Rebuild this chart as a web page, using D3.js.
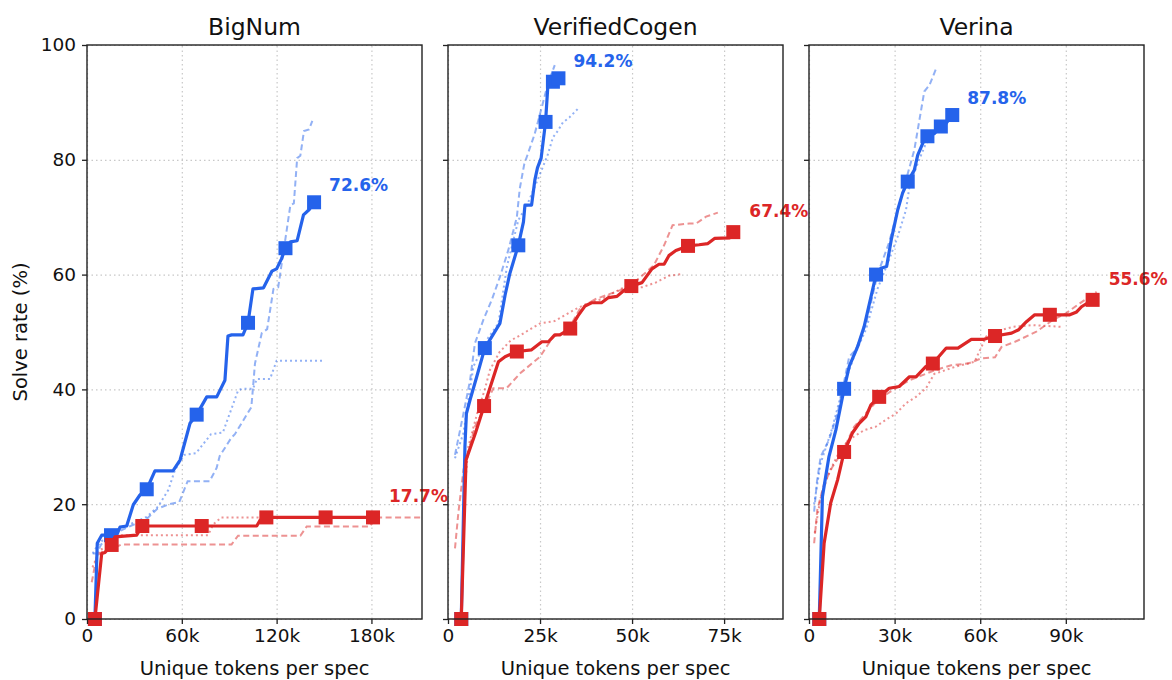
<!DOCTYPE html>
<html><head><meta charset="utf-8">
<script src="https://cdn.jsdelivr.net/npm/d3@7"></script>
<style>body{margin:0;background:#fff}svg{display:block}text{font-family:"DejaVu Sans",sans-serif}</style>
</head><body><svg id="c" width="1172" height="680"></svg>
<script>
// ---------- data (x in thousands of unique tokens, y in % solved) ----------
const panelTitles = ["BigNum", "VerifiedCogen", "Verina"];
const xTicksBig = [0, 60, 120, 180];
const xTicksVC = [0, 25, 50, 75];
const xTicksVer = [0, 30, 60, 90];
const xMaxes = [212, 91, 117.4];
const yTicks = [0, 20, 40, 60, 80, 100];

// BigNum
const bigBlueX = [5, 6.5, 9.3, 15.2, 18.8, 20.9, 25.1, 29.3, 33.5, 37.8, 43, 54.4, 58.9, 65.2, 69.4, 75.8, 82.1, 87.3, 89.2, 91.5, 98.7, 101.9, 105, 111.7, 117, 120, 123, 125.6, 128.7, 133, 137, 140.5, 143.7];
const bigBlueY = [0, 13.2, 14.6, 14.6, 14.6, 16.0, 16.2, 19.9, 21.6, 22.6, 25.8, 25.8, 27.7, 34.1, 35.6, 38.7, 38.7, 41.6, 49.3, 49.5, 49.5, 51.6, 57.5, 57.7, 60.6, 61, 62.7, 64.6, 65.7, 65.9, 70.4, 71.3, 72.6];
const bigBlueMarkX = [5, 15.2, 37.8, 69.4, 101.9, 125.6, 143.7];
const bigBlueMarkY = [0, 14.6, 22.6, 35.6, 51.6, 64.6, 72.6];
const bigBlueDashX = [3.6, 6, 9, 15, 22, 30, 38, 44.5, 52, 58.4, 63.7, 77.6, 82, 84, 91.4, 93.6, 100, 104, 106.3, 110.6, 114, 118, 121, 125.6, 128.7, 130.9, 133, 135, 137.3, 140.5, 142.6];
const bigBlueDashY = [11.4, 11.4, 13, 14.5, 15.5, 16.5, 17.5, 19.2, 20, 20.4, 24, 24, 26.3, 28.4, 31.6, 32.2, 35.1, 36.9, 44.5, 49.8, 50.5, 57.5, 57.8, 66.3, 72.1, 72.4, 80.3, 80.7, 85, 85.3, 86.8];
const bigBlueDotX = [3.6, 6, 9, 15, 22, 30, 37.8, 45, 51.5, 55.7, 61.6, 69, 78.5, 86, 95.6, 97.8, 105, 107.5, 115.8, 120, 150];
const bigBlueDotY = [11.4, 12.5, 13.5, 14.8, 16, 16.8, 17.8, 19.6, 22.5, 26, 28.6, 28.9, 32.2, 32.5, 39.8, 40.1, 40.1, 41.8, 41.8, 45, 45];
const bigRedX = [5, 9.3, 11.4, 15.6, 17.7, 31.4, 35, 72.6, 107.4, 109.5, 113.5, 151, 181];
const bigRedY = [0, 11.4, 11.6, 12.9, 14.3, 14.6, 16.2, 16.2, 16.2, 17.2, 17.7, 17.7, 17.7];
const bigRedMarkX = [5, 15.6, 35, 72.6, 113.5, 151, 181];
const bigRedMarkY = [0, 12.9, 16.2, 16.2, 17.7, 17.7, 17.7];
const bigRedDashX = [3, 6.2, 10.5, 18, 22, 91.5, 95.6, 135, 139, 179, 183, 211];
const bigRedDashY = [6.4, 11, 11.9, 12.5, 13, 13, 14.5, 14.5, 16.1, 16.1, 17.7, 17.7];
const bigRedDotX = [3.5, 8, 12.5, 19, 21, 76.6, 80, 85, 112];
const bigRedDotY = [9, 12, 12.6, 14.3, 14.6, 14.6, 16.5, 17.7, 17.7];

// VerifiedCogen
const vcBlueX = [3.6, 4.6, 5, 6, 7.8, 10, 14.1, 15.5, 16.8, 19.1, 20.5, 20.9, 22.7, 23.6, 24.3, 25.3, 26.5, 27.1, 28.5, 30];
const vcBlueY = [0, 30, 35.8, 38.2, 42.2, 47.2, 51.5, 56.4, 60.2, 65.1, 69.2, 72.1, 72.1, 76.5, 78.6, 80.3, 86.6, 92.6, 93.6, 94.2];
const vcBlueMarkX = [3.6, 10, 19.1, 26.5, 28.5, 30];
const vcBlueMarkY = [0, 47.2, 65.1, 86.6, 93.6, 94.2];
const vcBlueDashX = [1.9, 4.2, 6, 7.3, 9.6, 11.9, 14.1, 16.4, 18.7, 19.5, 20.7, 23.5, 25.7, 27.1, 29];
const vcBlueDashY = [28.6, 35.8, 41.6, 48, 52.1, 55.6, 59.6, 64.3, 70, 75, 79.2, 84.4, 89.7, 93.2, 96.5];
const vcBlueDotX = [1.9, 4.2, 6.9, 10.5, 13.7, 16, 19.1, 21.4, 23.7, 25.3, 27.1, 28.5, 29.8, 31.2, 33, 35.3];
const vcBlueDotY = [28, 32.4, 44, 48.6, 51.5, 61.4, 69.5, 72, 75.5, 78, 80.9, 83.9, 85, 86.5, 87.4, 88.9];
const vcRedX = [3.6, 4.9, 7.5, 9.8, 13.7, 15.5, 18.7, 22.7, 25.5, 27.3, 29, 30.4, 33.2, 35.3, 37.2, 39, 41.7, 43.6, 45.9, 47.7, 49.8, 52.7, 55.4, 57.3, 58.7, 60, 61.9, 65.2, 68.2, 70.6, 72.4, 76.5, 77.5];
const vcRedY = [0, 27.7, 32.5, 37.1, 44.8, 45.7, 46.6, 46.9, 48.3, 48.3, 49.5, 49.5, 50.6, 52.8, 54.5, 55.1, 55.1, 56, 56.2, 57.2, 58, 58.6, 61, 61.8, 61.8, 63.3, 64.2, 65, 65.2, 65.4, 66.3, 66.4, 67.4];
const vcRedMarkX = [3.6, 9.8, 18.7, 33.2, 49.8, 65.2, 77.5];
const vcRedMarkY = [0, 37.1, 46.6, 50.6, 58, 65, 67.4];
const vcRedDashX = [1.9, 2.8, 4.2, 7.3, 9.6, 12.3, 15.9, 19.6, 25, 28.6, 32.3, 35.9, 39.9, 49, 52.7, 55.9, 58.7, 61, 65.5, 67.4, 70.1, 73.3];
const vcRedDashY = [12.3, 18.4, 26, 33.5, 36.4, 40.2, 40.2, 42.8, 45.7, 49.2, 50, 54.1, 55.7, 57.8, 59.8, 61.6, 65.1, 68.6, 68.9, 68.9, 70.1, 70.8];
const vcRedDotX = [4.5, 5.5, 8, 10, 11.4, 14, 17, 19.8, 25, 28.9, 34.4, 38.3, 41.7, 47.2, 52.7, 56.4, 60, 63.7];
const vcRedDotY = [22, 30, 36, 40, 43.4, 46.5, 48.5, 49.5, 51.5, 51.9, 53.9, 55.1, 55.7, 57.6, 57.8, 58.6, 59.8, 60.1];

// Verina
const verBlueX = [3.6, 4.7, 7, 9.4, 12.3, 14.1, 17, 19.3, 23.5, 25.2, 27.2, 28.8, 31.1, 32.8, 34.6, 36.9, 38.1, 40.5, 41.5, 44, 46.2, 48, 50.2];
const verBlueY = [0, 21.3, 28.3, 32.9, 40.1, 44, 47.4, 50.9, 60, 61.1, 61.4, 66, 71.3, 74.2, 76.2, 78.2, 80.8, 83.6, 84.1, 84.6, 85.8, 86.3, 87.8];
const verBlueMarkX = [3.6, 12.3, 23.5, 34.6, 41.5, 46.2, 50.2];
const verBlueMarkY = [0, 40.1, 60, 76.2, 84.1, 85.8, 87.8];
const verBlueDashX = [1.8, 2.8, 4.1, 7, 10, 14.1, 16.4, 20, 24, 28, 31, 34, 36.9, 40.4, 42.2, 44.8];
const verBlueDashY = [18.7, 24, 28.3, 31.2, 35.8, 45.7, 46.9, 51.5, 60, 65.5, 71, 76.5, 81.7, 91.9, 93, 96.2];
const verBlueDotX = [1.8, 4, 8, 12, 16, 20, 24, 28, 31, 34, 35.2, 38.1, 41, 42.2];
const verBlueDotY = [20, 27, 33, 40.5, 46, 50.5, 57.5, 62.5, 66.5, 71.3, 75.3, 79.4, 82.9, 83.4];
const verRedX = [3.6, 5.3, 7.6, 10, 12.3, 15.2, 17.6, 19.9, 21.7, 24.6, 28.1, 31.6, 35.2, 37.5, 41, 43.4, 48.1, 52.2, 56.9, 61, 65.2, 71, 73.5, 76.2, 79.1, 84.4, 91.4, 93.8, 95.5, 99.4];
const verRedY = [0, 13.2, 20.2, 24.2, 29.1, 32.4, 34.1, 35.2, 37.3, 38.7, 40.2, 40.5, 42.2, 42.2, 44, 44.5, 47.2, 47.2, 48.7, 48.7, 49.3, 49.8, 50.4, 51.8, 53, 53, 53, 53.5, 54.4, 55.6];
const verRedMarkX = [3.6, 12.3, 24.6, 43.4, 65.2, 84.4, 99.4];
const verRedMarkY = [0, 29.1, 38.7, 44.5, 49.3, 53, 55.6];
const verRedDashX = [1.8, 2.9, 5.3, 8.2, 11.7, 15.8, 19.9, 24.6, 30.5, 35.2, 43.9, 49.8, 55.7, 60.4, 65.2, 67.5, 72.2, 79.5, 85.5, 90.2, 94.9, 100.8];
const verRedDashY = [13.2, 19, 23.6, 26.5, 29.1, 33.5, 35.8, 38.4, 40.2, 41.6, 43.3, 44.2, 44.5, 45.4, 45.6, 47.4, 48.3, 50, 52.1, 53.3, 55, 57];
const verRedDotX = [2, 4, 7, 10, 12.9, 15.8, 19.3, 23.4, 26.9, 30.5, 34, 37.5, 41, 43.9, 51, 58, 61, 62.1, 66.8, 71.5, 78.5, 88.5];
const verRedDotY = [15, 21, 25.5, 28.5, 30.6, 31.8, 32.9, 33.5, 34.7, 35.8, 37.6, 38.7, 40.2, 42.7, 43.9, 44.8, 48, 49.2, 50.3, 50.9, 51.2, 50.9];

const finalLabelsBlue = ["72.6%", "94.2%", "87.8%"];
const finalLabelsRed = ["17.7%", "67.4%", "55.6%"];

// ---------- layout ----------
const BLUE = "#2563eb", RED = "#dc2626";
const plotLefts = [87, 448, 809];
const plotW = 335, plotTop = 45, plotH = 574;

const zip = (xs, ys) => xs.map((x, i) => [x, ys[i]]);
const panels = [
  { ticks: xTicksBig, blue: zip(bigBlueX, bigBlueY), blueM: zip(bigBlueMarkX, bigBlueMarkY), blueDash: zip(bigBlueDashX, bigBlueDashY), blueDot: zip(bigBlueDotX, bigBlueDotY),
    red: zip(bigRedX, bigRedY), redM: zip(bigRedMarkX, bigRedMarkY), redDash: zip(bigRedDashX, bigRedDashY), redDot: zip(bigRedDotX, bigRedDotY) },
  { ticks: xTicksVC, blue: zip(vcBlueX, vcBlueY), blueM: zip(vcBlueMarkX, vcBlueMarkY), blueDash: zip(vcBlueDashX, vcBlueDashY), blueDot: zip(vcBlueDotX, vcBlueDotY),
    red: zip(vcRedX, vcRedY), redM: zip(vcRedMarkX, vcRedMarkY), redDash: zip(vcRedDashX, vcRedDashY), redDot: zip(vcRedDotX, vcRedDotY) },
  { ticks: xTicksVer, blue: zip(verBlueX, verBlueY), blueM: zip(verBlueMarkX, verBlueMarkY), blueDash: zip(verBlueDashX, verBlueDashY), blueDot: zip(verBlueDotX, verBlueDotY),
    red: zip(verRedX, verRedY), redM: zip(verRedMarkX, verRedMarkY), redDash: zip(verRedDashX, verRedDashY), redDot: zip(verRedDotX, verRedDotY) }
];

const svg = d3.select("#c");
const y = d3.scaleLinear().domain([0, 100]).range([plotTop + plotH, plotTop]);
const fmtK = d => d === 0 ? "0" : d + "k";

panels.forEach((p, i) => {
  const L = plotLefts[i];
  const x = d3.scaleLinear().domain([0, xMaxes[i]]).range([L, L + plotW]);
  const g = svg.append("g");

  // grid
  g.append("g").attr("transform", `translate(0,${plotTop + plotH})`)
    .call(d3.axisBottom(x).tickValues(p.ticks).tickSize(-plotH).tickFormat(""))
    .call(a => { a.select(".domain").remove(); a.selectAll("line").attr("stroke", "#c8c8c8").attr("stroke-width", 1.2).attr("stroke-dasharray", "1.5,3"); });
  g.append("g").attr("transform", `translate(${L},0)`)
    .call(d3.axisLeft(y).tickValues(yTicks).tickSize(-plotW).tickFormat(""))
    .call(a => { a.select(".domain").remove(); a.selectAll("line").attr("stroke", "#c8c8c8").attr("stroke-width", 1.2).attr("stroke-dasharray", "1.5,3"); });

  const line = d3.line().x(d => x(d[0])).y(d => y(d[1]));
  const light = (data, color, dash) => g.append("path").datum(data).attr("d", line)
    .attr("fill", "none").attr("stroke", color).attr("stroke-opacity", 0.5).attr("stroke-width", 2).attr("stroke-dasharray", dash);

  light(p.blueDash, BLUE, "6,3.5");
  light(p.blueDot, BLUE, "2,3");
  light(p.redDash, RED, "6,3.5");
  light(p.redDot, RED, "2,3");

  const main = (data, marks, color) => {
    g.append("path").datum(data).attr("d", line).attr("fill", "none").attr("stroke", color).attr("stroke-width", 3.2).attr("stroke-linejoin", "round");
    g.selectAll(null).data(marks).enter().append("rect")
      .attr("x", d => x(d[0]) - 7).attr("y", d => y(d[1]) - 7).attr("width", 14).attr("height", 14).attr("fill", color);
  };
  main(p.blue, p.blueM, BLUE);
  main(p.red, p.redM, RED);

  // final labels
  const lb = p.blueM[p.blueM.length - 1], lr = p.redM[p.redM.length - 1];
  g.append("text").attr("x", x(lb[0]) + 15).attr("y", y(lb[1]) - 11).attr("fill", BLUE)
    .attr("font-weight", "bold").attr("font-size", 17).text(finalLabelsBlue[i]);
  g.append("text").attr("x", x(lr[0]) + 16).attr("y", y(lr[1]) - 15).attr("fill", RED)
    .attr("font-weight", "bold").attr("font-size", 17).text(finalLabelsRed[i]);

  // axes
  const xa = g.append("g").attr("transform", `translate(0,${plotTop + plotH})`)
    .call(d3.axisBottom(x).tickValues(p.ticks).tickSize(5).tickPadding(5).tickFormat(fmtK));
  const ya = g.append("g").attr("transform", `translate(${L},0)`)
    .call(d3.axisLeft(y).tickValues(yTicks).tickSize(5).tickPadding(6).tickFormat(i === 0 ? d3.format("d") : ""));
  [xa, ya].forEach(a => {
    a.select(".domain").remove();
    a.selectAll("line").attr("stroke", "#222").attr("stroke-width", 1.3);
    a.selectAll("text").attr("font-size", 18.5).attr("fill", "#111").attr("font-family", "DejaVu Sans");
  });
  // frame
  g.append("rect").attr("x", L).attr("y", plotTop).attr("width", plotW).attr("height", plotH)
    .attr("fill", "none").attr("stroke", "#222").attr("stroke-width", 1.4);

  g.append("text").attr("x", L + plotW / 2).attr("y", 35).attr("text-anchor", "middle")
    .attr("font-size", 23.5).attr("fill", "#111").text(panelTitles[i]);
  g.append("text").attr("x", L + plotW / 2).attr("y", 675).attr("text-anchor", "middle")
    .attr("font-size", 19.5).attr("fill", "#111").text("Unique tokens per spec");
});

svg.append("text").attr("transform", `translate(27,${plotTop + plotH / 2}) rotate(-90)`)
  .attr("text-anchor", "middle").attr("font-size", 19.5).attr("fill", "#111").text("Solve rate (%)");
</script></body></html>
